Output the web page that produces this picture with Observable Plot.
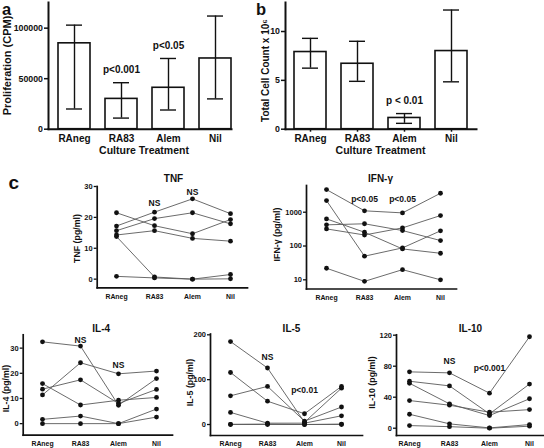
<!DOCTYPE html>
<html><head><meta charset="utf-8">
<script src="https://cdn.jsdelivr.net/npm/d3@7"></script>
<script src="https://cdn.jsdelivr.net/npm/@observablehq/plot@0.6"></script>
<style>
html,body{margin:0;padding:0;background:#fff;}
#fig{position:relative;width:544px;height:448px;overflow:hidden;background:#fff;}
#fig svg{position:absolute;left:0;top:0;}
</style></head><body><div id="fig"></div>
<script>
// ---------- data ----------
const categories = ["RAneg", "RA83", "Alem", "Nil"];

const prolifMean = [85000, 30000, 41000, 70000];
const prolifLow  = [20000, 11000, 19000, 30000];
const prolifHigh = [103000, 46000, 70000, 112000];
const prolifNotes = ["", "p<0.001", "p<0.05", ""];

const countMean = [7.9, 6.7, 1.15, 8.0];
const countLow  = [6.25, 4.9, 0.6, 4.85];
const countHigh = [9.3, 9.0, 1.6, 12.2];
const countNotes = ["", "", "p < 0.01", ""];

const tnfValues = [
  [21.5, 17.3, 14.7, 19.3],
  [17.2, 21.7, 26.0, 21.2],
  [15.7, 19.6, 21.5, 17.9],
  [14.3, 15.7, 13.2, 12.3],
  [13.8, 0.7, 0.0, 0.1],
  [0.9, 0.4, 0.0, 1.5]
];
const ifnValues = [
  [4670, 1100, 955, 3640],
  [2210, 50, 88, 281],
  [635, 255, 82, 61],
  [423, 455, 287, 145],
  [321, 212, 344, 797],
  [22, 9, 20, 10]
];
const il4Values = [
  [32.5, 30.8, 7.3, 17.9],
  [11.4, 24.2, 19.8, 20.9],
  [13.7, 17.4, 8.0, 13.6],
  [15.9, 7.4, 9.3, 10.4],
  [1.7, 3.0, 0.0, 5.8],
  [0.0, 0.0, 0.0, 2.6]
];
const il5Values = [
  [185, 126, 5, 81],
  [116, 52, 24, 85],
  [64, 85, 7.5, 39],
  [27, 3, 3, 19.4],
  [0, 0, 0, 1],
  [0.5, 1, 0, 0]
];
const il10Values = [
  [72.7, 71.4, 45.2, 118],
  [60.6, 54.6, 18.5, 57],
  [58, 31.4, 16.3, 38],
  [35.7, 29.7, 20.6, 24],
  [18, 5.6, 0.4, 4.7],
  [3.4, 2, 0, 2.6]
];
const tnfNotes  = ["", "NS", "NS", ""];
const ifnNotes  = ["", "p<0.05", "p<0.05", ""];
const il4Notes  = ["", "NS", "NS", ""];
const il5Notes  = ["", "NS", "p<0.01", ""];
const il10Notes = ["", "NS", "p<0.001", ""];

// ---------- layout / style ----------
const W = 544, H = 448;
const INK = "#111";
const FONT = '"Liberation Sans", Arial, Helvetica, sans-serif';
const baseStyle = {background: "transparent", fontFamily: FONT, fontWeight: "bold", color: INK, overflow: "visible"};

function place(t, px, py, fr, extra = {}) {
  return Plot.text([t], {frameAnchor: "top-left", dx: px - fr[0], dy: py - fr[2],
    textAnchor: "middle", lineAnchor: "middle", fill: INK, ...extra});
}

function barPanel(o) {
  const fr = o.frame;
  const rows = categories.map((c, i) => ({cat: c, mean: o.mean[i], lo: o.low[i], hi: o.high[i], note: o.notes[i]}));
  return Plot.plot({
    width: W, height: H,
    marginLeft: fr[0], marginRight: W - fr[1], marginTop: fr[2], marginBottom: H - fr[3],
    style: baseStyle,
    x: {type: "band", domain: categories, range: o.xRange, paddingInner: 0.32, paddingOuter: 0, align: 0.5, label: null},
    y: {domain: o.yDomain, label: null},
    marks: [
      Plot.barY(rows, {x: "cat", y: "mean", fill: "white", stroke: INK, strokeWidth: 1.6}),
      Plot.ruleX(rows, {x: "cat", y1: "lo", y2: "hi", stroke: INK, strokeWidth: 1.4}),
      Plot.tickY(rows, {x: "cat", y: "lo", insetLeft: 8, insetRight: 8, stroke: INK, strokeWidth: 1.4}),
      Plot.tickY(rows, {x: "cat", y: "hi", insetLeft: 8, insetRight: 8, stroke: INK, strokeWidth: 1.4}),
      Plot.frame({anchor: "left", stroke: INK, strokeWidth: 2}),
      Plot.frame({anchor: "bottom", stroke: INK, strokeWidth: 2}),
      Plot.axisY({ticks: o.yTicks, tickFormat: d => String(d), tickSize: 4, tickPadding: 1.5, strokeWidth: 1.5,
        fontSize: 8.8, label: null, fill: INK}),
      Plot.axisX({tickSize: o.xTickSize, tickPadding: o.xTickPad, strokeWidth: 1.5, fontSize: 10, label: null, fill: INK}),
      Plot.text(rows.filter(r => r.note), {x: "cat", y: "hi", text: "note", dy: o.noteDy, fontSize: 10,
        lineAnchor: "middle", fill: INK}),
      place(o.ylabel, o.ylabelPos[0], o.ylabelPos[1], fr, {rotate: -90, fontSize: o.ylabelSize}),
      place("Culture Treatment", o.xlabelPos[0], o.xlabelPos[1], fr, {fontSize: 10.5}),
      place(o.letter, o.letterPos[0], o.letterPos[1], fr, {textAnchor: "start", fontSize: 16.5})
    ]
  });
}

function linePanel(o) {
  const fr = o.frame;
  const rows = [];
  o.values.forEach((d, j) => d.forEach((v, i) => rows.push({donor: j, cat: categories[i], v})));
  const tops = categories.map((c, i) => ({cat: c, top: d3.max(o.values, d => d[i]), note: o.notes[i]}));
  const noteMarks = tops.map((t, i) => t.note
    ? Plot.text([t], {x: "cat", y: "top", text: "note", dy: o.noteDy[i], fontSize: 8.5, lineAnchor: "middle", fill: INK})
    : null);
  return Plot.plot({
    width: W, height: H,
    marginLeft: fr[0], marginRight: W - fr[1], marginTop: fr[2], marginBottom: H - fr[3],
    style: baseStyle,
    x: {type: "point", domain: categories, range: o.xRange, padding: 0, label: null},
    y: {type: o.log ? "log" : "linear", domain: o.yDomain, label: null},
    marks: [
      Plot.line(rows, {x: "cat", y: "v", z: "donor", stroke: "#5a5a5a", strokeWidth: 0.9}),
      Plot.dot(rows, {x: "cat", y: "v", r: 2.4, fill: INK, stroke: "none"}),
      Plot.frame({anchor: "left", stroke: INK, strokeWidth: 1.7}),
      Plot.frame({anchor: "bottom", stroke: INK, strokeWidth: 1.7}),
      Plot.axisY({ticks: o.yTicks, tickFormat: d => String(d), tickSize: 3, tickPadding: 1.5, strokeWidth: 1.3,
        fontSize: 7.5, label: null, fill: INK}),
      Plot.axisX({tickSize: 0, tickPadding: 6, fontSize: 6.9, label: null, fill: INK}),
      ...noteMarks.filter(Boolean),
      place(o.title, o.titlePos[0], o.titlePos[1], fr, {fontSize: 10}),
      place(o.ylabel, o.ylabelPos[0], o.ylabelPos[1], fr, {rotate: -90, fontSize: 8.8}),
      ...(o.letter ? [place(o.letter, o.letterPos[0], o.letterPos[1], fr, {textAnchor: "start", fontSize: 19})] : [])
    ]
  });
}

const fig = document.getElementById("fig");

fig.append(barPanel({
  frame: [48, 231, 2, 128.7], xRange: [57, 231], yDomain: [0, 125400], yTicks: [0, 50000, 100000],
  mean: prolifMean, low: prolifLow, high: prolifHigh, notes: prolifNotes, noteDy: -13,
  xTickSize: 0, xTickPad: 5.5,
  ylabel: "Proliferation (CPM)", ylabelPos: [7, 65], ylabelSize: 11,
  xlabelPos: [143.5, 150.5], letter: "a", letterPos: [1.5, 9]
}));

fig.append(barPanel({
  frame: [285, 476, 2, 128.7], xRange: [293, 468], yDomain: [0, 12.97], yTicks: [0, 5, 10],
  mean: countMean, low: countLow, high: countHigh, notes: countNotes, noteDy: -13,
  xTickSize: 3, xTickPad: 2.5,
  ylabel: "Total Cell Count x 10\u2076", ylabelPos: [265.5, 70], ylabelSize: 10,
  xlabelPos: [380, 150.5], letter: "b", letterPos: [255.5, 9]
}));

fig.append(linePanel({
  frame: [96.7, 247, 186, 287.3], xRange: [115.5, 229.5], yDomain: [-2.8, 30], yTicks: [0, 10, 20, 30],
  values: tnfValues, notes: tnfNotes, noteDy: [0, -8.5, -7, 0],
  title: "TNF", titlePos: [173, 178.6], ylabel: "TNF (pg/ml)", ylabelPos: [76.5, 238],
  letter: "c", letterPos: [8, 182]
}));

fig.append(linePanel({
  frame: [306, 456, 185, 288.5], xRange: [325.3, 439.7], yDomain: [5.35, 6170], yTicks: [10, 100, 1000], log: true,
  values: ifnValues, notes: ifnNotes, noteDy: [0, -12, -14, 0],
  title: "IFN-\u03b3", titlePos: [380, 178.6], ylabel: "IFN-\u03b3 (pg/ml)", ylabelPos: [277, 234]
}));

fig.append(linePanel({
  frame: [22.7, 172, 334.3, 434.7], xRange: [40.7, 157.3], yDomain: [-4.6, 35.3], yTicks: [0, 10, 20, 30],
  values: il4Values, notes: il4Notes, noteDy: [0, -6, -8.5, 0],
  title: "IL-4", titlePos: [100.7, 328.5], ylabel: "IL-4 (pg/ml)", ylabelPos: [5.8, 388]
}));

fig.append(linePanel({
  frame: [210, 362, 333.5, 435], xRange: [229, 342.7], yDomain: [-24.5, 201.8], yTicks: [0, 100, 200],
  values: il5Values, notes: il5Notes, noteDy: [0, -11, -23, 0],
  title: "IL-5", titlePos: [291, 328.5], ylabel: "IL-5 (pg/ml)", ylabelPos: [189.5, 382]
}));

fig.append(linePanel({
  frame: [396, 543, 334.3, 435], xRange: [409, 529], yDomain: [-9.4, 120.5], yTicks: [0, 40, 80, 120],
  values: il10Values, notes: il10Notes, noteDy: [0, -12, -24.5, 0],
  title: "IL-10", titlePos: [470, 328.5], ylabel: "IL-10 (pg/ml)", ylabelPos: [372, 382]
}));
</script>
</body></html>
